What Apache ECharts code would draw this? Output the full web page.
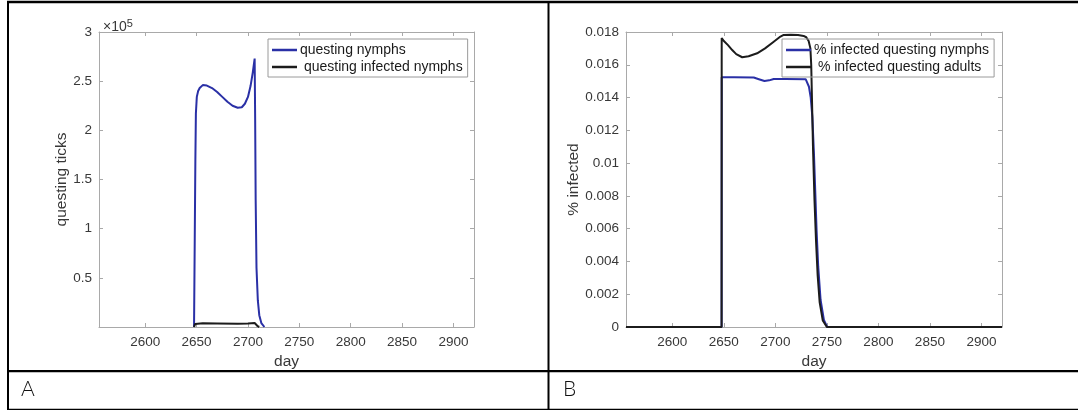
<!DOCTYPE html>
<html>
<head>
<meta charset="utf-8">
<script src="https://cdn.jsdelivr.net/npm/echarts@6/dist/echarts.min.js"></script>
<style>
html,body{margin:0;padding:0;background:#fff;}
#c{width:1078px;height:410px;}
</style>
</head>
<body>
<div id="c"></div>
<script>
// ---------- DATA ----------
const xTicks = [2600, 2650, 2700, 2750, 2800, 2850, 2900];
const dayRange = [2555, 2920];

// Panel A
const daysNymphs = [2647.5, 2648.2, 2648.8, 2649.3, 2650.2, 2651.5, 2653, 2656, 2660, 2665, 2670, 2675, 2680, 2685, 2690, 2694, 2697, 2700, 2702.5, 2704.7, 2706.5, 2707, 2707.5, 2708.3, 2709.6, 2711, 2713, 2716];
const questingNymphs = [0, 90000, 170000, 217000, 234000, 240000, 243000, 246000, 245500, 243000, 239000, 234000, 229000, 225000, 223000, 223500, 227000, 234000, 245000, 259000, 273000, 210000, 129000, 60000, 27000, 12000, 4000, 0];
const daysInfNymphs = [2647.5, 2648.5, 2650, 2656, 2670, 2690, 2700, 2706.5, 2708, 2709.5, 2711];
const questingInfectedNymphs = [0, 3000, 3500, 3750, 3650, 3400, 3550, 4100, 2500, 800, 0];
const yTicksA = [0, 50000, 100000, 150000, 200000, 250000, 300000];

// Panel B
const daysPctNymphs = [2555, 2647.8, 2647.9, 2660, 2679, 2684, 2689.4, 2694, 2698.4, 2710, 2729.4, 2731, 2732.6, 2734.3, 2735.9, 2737.5, 2739, 2740, 2741.6, 2743.9, 2747.1, 2750.3, 2920];
const pctInfectedNymphs = [0, 0, 0.01524, 0.01524, 0.01522, 0.01512, 0.01501, 0.01505, 0.01513, 0.01513, 0.01512, 0.01500, 0.01466, 0.0140, 0.01283, 0.0105, 0.00775, 0.0059, 0.00368, 0.00165, 0.00043, 0, 0];
const daysPctAdults = [2555, 2647.8, 2647.9, 2650, 2654, 2658.1, 2662, 2667.8, 2674, 2682.3, 2690, 2698.4, 2704, 2708.1, 2715, 2722, 2727.4, 2730, 2732.3, 2734, 2734.8, 2735.5, 2736.5, 2738, 2739.5, 2741, 2743, 2746, 2750, 2920];
const pctInfectedAdults = [0, 0, 0.01763, 0.01745, 0.0172, 0.0169, 0.01665, 0.01646, 0.01652, 0.0167, 0.0170, 0.01741, 0.01768, 0.01782, 0.01783, 0.01781, 0.01776, 0.01768, 0.01745, 0.0170, 0.0160, 0.0140, 0.0110, 0.0077, 0.0052, 0.0032, 0.0015, 0.0004, 0, 0];
const yTicksB = [0, 0.002, 0.004, 0.006, 0.008, 0.01, 0.012, 0.014, 0.016, 0.018];

const namesA = ['questing nymphs', ' questing infected nymphs'];
const namesB = ['% infected questing nymphs', ' % infected questing adults'];
const panelLabels = ['A', 'B'];

// ---------- HELPERS ----------
const zip = (xs, ys) => xs.map((x, i) => [x, ys[i]]);
const FONT = 'Liberation Sans';
const AX = '#a9a9a9';
const LBL = '#383838';
const BLUE = '#2a30a6';
const BLACK = '#1c1c1c';

function xAxes(gi) {
  const base = {
    type: 'value', gridIndex: gi, min: dayRange[0], max: dayRange[1],
    splitNumber: 7, minInterval: 50, maxInterval: 50,
    axisLine: {show: true, onZero: false, lineStyle: {color: AX, width: 1}},
    axisTick: {show: true, inside: true, length: 4, lineStyle: {color: AX}},
    splitLine: {show: false}
  };
  return [
    Object.assign({}, base, {
      position: 'bottom', name: 'day', nameLocation: 'middle', nameGap: 15,
      nameTextStyle: {fontFamily: FONT, fontSize: 15.5, color: LBL},
      axisLabel: {show: true, fontFamily: FONT, fontSize: 13.5, color: LBL, margin: 8,
        showMinLabel: false, showMaxLabel: false,
        formatter: v => (xTicks.indexOf(v) >= 0 ? String(v) : '')}
    }),
    Object.assign({}, base, {position: 'top', axisLabel: {show: false}})
  ];
}
function yAxes(gi, ticks, name, fmt, gap) {
  const base = {
    type: 'value', gridIndex: gi, min: ticks[0], max: ticks[ticks.length - 1],
    interval: ticks[1] - ticks[0],
    axisLine: {show: true, onZero: false, lineStyle: {color: AX, width: 1}},
    axisTick: {show: true, inside: true, length: 4, lineStyle: {color: AX}},
    splitLine: {show: false}
  };
  return [
    Object.assign({}, base, {
      position: 'left', name: name, nameLocation: 'middle', nameGap: gap,
      nameTextStyle: {fontFamily: FONT, fontSize: 15.5, color: LBL},
      axisLabel: {show: true, fontFamily: FONT, fontSize: 13.5, color: LBL, margin: 7, formatter: fmt}
    }),
    Object.assign({}, base, {position: 'right', axisLabel: {show: false}})
  ];
}

const chart = echarts.init(document.getElementById('c'), null, {renderer: 'canvas'});

const legendCommon = {
  orient: 'vertical', itemWidth: 25, itemHeight: 2.5, icon: 'rect', itemGap: 3,
  padding: [4, 5, 3, 4], borderColor: '#9a9a9a', borderWidth: 1, borderRadius: 0,
  backgroundColor: 'rgba(255,255,255,0)',
  textStyle: {fontFamily: FONT, fontSize: 14, color: '#1a1a1a', padding: [0, 0, 0, -2]}
};

const option = {
  animation: false,
  backgroundColor: '#fff',
  title: [{
    text: '×10{s|5}', left: 98, top: 13,
    textStyle: {fontFamily: FONT, fontSize: 14, fontWeight: 'normal', color: LBL,
      rich: {s: {fontFamily: FONT, fontSize: 11, color: LBL, verticalAlign: 'top', padding: [0, 0, 7, 0]}}}
  }],
  grid: [
    {left: 99, top: 32, width: 375, height: 295},
    {left: 626, top: 32, width: 376, height: 295}
  ],
  xAxis: [...xAxes(0), ...xAxes(1)],
  yAxis: [
    ...yAxes(0, yTicksA, 'questing ticks', v => (v === 0 ? '' : String(v / 100000)), 25),
    ...yAxes(1, yTicksB, '% infected', v => (v === 0 ? '0' : String(+v.toFixed(3))), 40)
  ],
  legend: [
    Object.assign({}, legendCommon, {data: namesA, left: 268, top: 39}),
    Object.assign({}, legendCommon, {data: namesB, left: 782, top: 39})
  ],
  series: [
    {name: namesA[0], type: 'line', xAxisIndex: 0, yAxisIndex: 0, data: zip(daysNymphs, questingNymphs),
      showSymbol: false, color: BLUE, lineStyle: {width: 2, color: BLUE}},
    {name: namesA[1], type: 'line', xAxisIndex: 0, yAxisIndex: 0, data: zip(daysInfNymphs, questingInfectedNymphs),
      showSymbol: false, color: BLACK, lineStyle: {width: 2, color: BLACK}},
    {name: namesB[0], type: 'line', xAxisIndex: 2, yAxisIndex: 2, data: zip(daysPctNymphs, pctInfectedNymphs),
      showSymbol: false, color: BLUE, lineStyle: {width: 2, color: BLUE}},
    {name: namesB[1], type: 'line', xAxisIndex: 2, yAxisIndex: 2, data: zip(daysPctAdults, pctInfectedAdults),
      showSymbol: false, color: BLACK, lineStyle: {width: 2, color: BLACK}}
  ],
  graphic: [
    // table frame
    {type: 'line', shape: {x1: 7, y1: 2, x2: 1078, y2: 2}, style: {stroke: '#000', lineWidth: 2.5}},
    {type: 'line', shape: {x1: 8, y1: 1, x2: 8, y2: 410}, style: {stroke: '#000', lineWidth: 2}},
    {type: 'line', shape: {x1: 548.5, y1: 1, x2: 548.5, y2: 410}, style: {stroke: '#000', lineWidth: 2}},
    {type: 'line', shape: {x1: 7, y1: 371.2, x2: 1078, y2: 371.2}, style: {stroke: '#000', lineWidth: 2.3}},
    {type: 'line', shape: {x1: 7, y1: 409.8, x2: 1078, y2: 409.8}, style: {stroke: '#000', lineWidth: 2}},
    {type: 'text', left: 21, top: 379, style: {text: panelLabels[0], fontFamily: 'Lato', fontWeight: 300, fontSize: 21, fill: '#111'}},
    {type: 'text', left: 563, top: 379, style: {text: panelLabels[1], fontFamily: 'Lato', fontWeight: 300, fontSize: 21, fill: '#111'}}
  ]
};
chart.setOption(option);
</script>
</body>
</html>
